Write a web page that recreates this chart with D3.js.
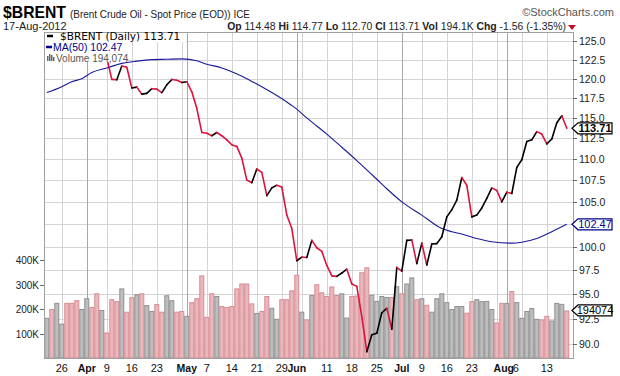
<!DOCTYPE html>
<html>
<head>
<meta charset="utf-8">
<script src="https://cdn.jsdelivr.net/npm/d3@7"></script>
<style>
  body { margin: 0; background: #fff; }
  svg { display: block; font-family: "Liberation Sans", Arial, sans-serif; }
</style>
</head>
<body>
<div id="chart"></div>
<script>
// trading days shown (ICE Brent, daily)
const dates = [
  "2012-03-21","2012-03-22","2012-03-23",
  "2012-03-26","2012-03-27","2012-03-28","2012-03-29","2012-03-30",
  "2012-04-02","2012-04-03","2012-04-04","2012-04-05",
  "2012-04-09","2012-04-10","2012-04-11","2012-04-12","2012-04-13",
  "2012-04-16","2012-04-17","2012-04-18","2012-04-19","2012-04-20",
  "2012-04-23","2012-04-24","2012-04-25","2012-04-26","2012-04-27",
  "2012-04-30","2012-05-01","2012-05-02","2012-05-03","2012-05-04",
  "2012-05-07","2012-05-08","2012-05-09","2012-05-10","2012-05-11",
  "2012-05-14","2012-05-15","2012-05-16","2012-05-17","2012-05-18",
  "2012-05-21","2012-05-22","2012-05-23","2012-05-24","2012-05-25",
  "2012-05-29","2012-05-30","2012-05-31","2012-06-01",
  "2012-06-04","2012-06-05","2012-06-06","2012-06-07","2012-06-08",
  "2012-06-11","2012-06-12","2012-06-13","2012-06-14","2012-06-15",
  "2012-06-18","2012-06-19","2012-06-20","2012-06-21","2012-06-22",
  "2012-06-25","2012-06-26","2012-06-27","2012-06-28","2012-06-29",
  "2012-07-02","2012-07-03","2012-07-05","2012-07-06",
  "2012-07-09","2012-07-10","2012-07-11","2012-07-12","2012-07-13",
  "2012-07-16","2012-07-17","2012-07-18","2012-07-19","2012-07-20",
  "2012-07-23","2012-07-24","2012-07-25","2012-07-26","2012-07-27",
  "2012-07-30","2012-07-31","2012-08-01","2012-08-02","2012-08-03",
  "2012-08-06","2012-08-07","2012-08-08","2012-08-09","2012-08-10",
  "2012-08-13","2012-08-14","2012-08-15","2012-08-16","2012-08-17"
];

const priorClose = 123.6;
const closes = [
  124.2, 123.1, 125.1,
  125.7, 125.6, 124.2, 122.5, 122.9,
  125.4, 124.6, 122.3, 123.4,
  122.7, 119.9, 119.85, 121.65, 121.5,
  118.8, 118.9, 118.0, 118.1, 118.7,
  118.65, 118.2, 119.2, 119.9, 119.8,
  119.5, 119.6, 118.3, 116.2, 113.2,
  113.1, 112.8, 113.2, 112.8, 112.3,
  111.7, 111.5, 110.1, 107.5, 107.2,
  108.8, 108.4, 105.7, 106.6, 106.9,
  106.7, 103.5, 102.0, 98.5,
  98.9, 98.85, 100.7, 99.9, 99.5,
  98.0, 96.9, 96.85, 97.2, 97.6,
  96.05, 95.8, 92.7, 89.25, 90.9,
  91.05, 93.1, 93.55, 91.45, 97.8,
  97.4, 100.7, 100.75, 98.2,
  100.4, 98.05, 100.3, 100.35, 101.1,
  103.3, 104.1, 105.2, 107.8, 106.9,
  103.3, 103.5, 104.3, 105.4, 106.6,
  106.3, 105.0, 106.1, 105.95, 109.0,
  109.9, 112.1, 112.3, 113.3, 113.0,
  111.8, 112.4, 114.4, 115.27, 113.71
];

// volume in thousands
const volumes = [
  164, 200, 225,
  140, 225, 225, 236, 200,
  244, 208, 264, 196,
  104, 240, 232, 284, 189,
  248, 260, 264, 216, 192,
  220, 189, 256, 236, 189,
  192, 172, 228, 244, 337,
  168, 264, 253, 212, 208,
  212, 284, 304, 304, 223,
  184, 192, 253, 205, 160,
  240, 240, 276, 340,
  189, 157, 257, 301, 268,
  253, 292, 257, 264, 165,
  253, 255, 350, 370, 258,
  233, 253, 249, 249, 293,
  264, 304, 329, 240,
  244, 217, 189, 244, 264,
  228, 200, 212, 212, 185,
  232, 240, 232, 233, 200,
  145, 225, 225, 273, 228,
  164, 192, 204, 160, 157,
  172, 153, 225, 221, 194.074
];

// 50-day moving average, read at these days
const maDates = [
  "2012-03-21","2012-03-26","2012-03-28","2012-03-30","2012-04-03","2012-04-09",
  "2012-04-12","2012-04-17","2012-04-20","2012-04-25","2012-04-30","2012-05-03",
  "2012-05-07","2012-05-10","2012-05-14","2012-05-17","2012-05-21","2012-05-24",
  "2012-05-30","2012-06-01","2012-06-05","2012-06-07","2012-06-11","2012-06-14",
  "2012-06-19","2012-06-21","2012-06-25","2012-06-27","2012-07-02","2012-07-09",
  "2012-07-13","2012-07-17","2012-07-19","2012-07-24","2012-07-27","2012-08-02",
  "2012-08-06","2012-08-09","2012-08-14","2012-08-17"
];
const maValues = [
  118.2, 118.96, 119.6, 120.0, 120.8, 121.4,
  122.0, 122.3, 122.5, 122.55, 122.6, 122.35,
  121.9, 121.4, 120.9, 120.0, 119.3, 118.2,
  117.0, 116.1, 115.0, 114.0, 113.0, 111.4,
  109.8, 108.7, 107.6, 106.5, 105.0, 103.5,
  102.0, 101.65, 101.4, 100.9, 100.55, 100.4,
  100.5, 100.9, 101.65, 102.47
];

const priceTicks = [90, 92.5, 95, 97.5, 100, 102.5, 105, 107.5, 110, 112.5, 115, 117.5, 120, 122.5, 125];
const volumeTicks = [100, 200, 300, 400];

const gridDates = [
  "2012-03-26","2012-04-09","2012-04-16","2012-04-23","2012-04-30","2012-05-07",
  "2012-05-14","2012-05-21","2012-05-29","2012-06-04","2012-06-11","2012-06-18",
  "2012-06-25","2012-07-09","2012-07-16","2012-07-23","2012-07-30","2012-08-06","2012-08-13"
];
const monthDates = ["2012-04-02","2012-05-01","2012-06-01","2012-07-02","2012-08-01"];
const tickDates = [
  "2012-03-26","2012-04-02","2012-04-09","2012-04-16","2012-04-23","2012-05-01",
  "2012-05-07","2012-05-14","2012-05-21","2012-05-29","2012-06-01","2012-06-11",
  "2012-06-18","2012-06-25","2012-07-02","2012-07-09","2012-07-16","2012-07-23",
  "2012-08-01","2012-08-06","2012-08-13"
];
const tickLabels = ["26","Apr","9","16","23","May","7","14","21","29","Jun","11","18","25","Jul","9","16","23","Aug","6","13"];

const width = 620, height = 376;
const pL = 44, pR = 573, pT = 32, pB = 358;

const svg = d3.select('#chart').append('svg').attr('width', width).attr('height', height);

const x = d3.scaleBand().domain(dates).range([pL + 0.3, pL + 0.3 + 5 * dates.length]).padding(0);
const cx = (d) => x(d) + x.bandwidth() / 2;
const y = d3.scaleLog().domain([90, 125]).range([344, 41]);
const yVol = d3.scaleLinear().domain([0, 400]).range([pB, 260]);

const lastClose = closes[closes.length - 1];
const lastMa = maValues[maValues.length - 1];
const lastVol = volumes[volumes.length - 1];

svg.append('defs').append('clipPath').attr('id', 'plot')
  .append('rect').attr('x', pL).attr('y', pT).attr('width', pR - pL).attr('height', pB - pT);

//grid
const grid = svg.append('g');
grid.selectAll('.hg').data(priceTicks).enter().append('line')
  .attr('x1', pL).attr('x2', pR)
  .attr('y1', (d) => Math.round(y(d)) + 0.5).attr('y2', (d) => Math.round(y(d)) + 0.5)
  .attr('stroke', '#d4d4d4');
grid.selectAll('.vg').data(gridDates).enter().append('line')
  .attr('x1', (d) => Math.round(cx(d)) + 0.5).attr('x2', (d) => Math.round(cx(d)) + 0.5)
  .attr('y1', pT).attr('y2', pB)
  .attr('stroke', '#d4d4d4');
grid.selectAll('.mg').data(monthDates).enter().append('line')
  .attr('x1', (d) => Math.round(cx(d)) + 0.5).attr('x2', (d) => Math.round(cx(d)) + 0.5)
  .attr('y1', pT).attr('y2', pB)
  .attr('stroke', '#a8a8a8');

// up / down vs previous close
const up = closes.map((c, i) => c >= (i === 0 ? priorClose : closes[i - 1]));

//volume bars
svg.append('g').attr('clip-path', 'url(#plot)')
  .selectAll('rect').data(dates).enter().append('rect')
  .attr('x', (d) => x(d) + 0.5)
  .attr('width', x.bandwidth() - 1)
  .attr('y', (d, i) => yVol(volumes[i]) + 0.5)
  .attr('height', (d, i) => pB - yVol(volumes[i]) - 0.5)
  .attr('fill', (d, i) => (up[i] ? '#bebebe' : '#e9b8bd'))
  .attr('stroke', (d, i) => (up[i] ? '#8f8f8f' : '#d98a93'))
  .attr('stroke-width', 1);

//moving average
const maLine = d3.line().x((d) => cx(d[0])).y((d) => y(d[1])).curve(d3.curveMonotoneX);
svg.append('path')
  .attr('clip-path', 'url(#plot)')
  .datum(maDates.map((d, i) => [d, maValues[i]]))
  .attr('d', maLine)
  .attr('fill', 'none')
  .attr('stroke', '#1a1a9c')
  .attr('stroke-width', 1.1);

//price segments
const segs = closes.slice(1).map((c, i) => ({ a: i, b: i + 1, up: c >= closes[i] }));
svg.append('g').attr('clip-path', 'url(#plot)')
  .selectAll('line').data(segs).enter().append('line')
  .attr('x1', (d) => cx(dates[d.a])).attr('y1', (d) => y(closes[d.a]))
  .attr('x2', (d) => cx(dates[d.b])).attr('y2', (d) => y(closes[d.b]))
  .attr('stroke', (d) => (d.up ? '#000' : '#dc143c'))
  .attr('stroke-width', 1.6)
  .attr('stroke-linecap', 'round');

//frame
svg.append('rect').attr('x', pL + 0.5).attr('y', pT + 0.5)
  .attr('width', pR - pL).attr('height', pB - pT)
  .attr('fill', 'none').attr('stroke', '#a0a0a0');

//right price axis (labels under a value tag are covered, as on the original)
const tagYs = [y(lastClose), y(lastMa), yVol(lastVol)];
const shownTicks = priceTicks.filter((t) => tagYs.every((ty) => Math.abs(y(t) - ty) > 5));
const ra = svg.append('g');
ra.selectAll('line').data(priceTicks).enter().append('line')
  .attr('x1', pR).attr('x2', pR + 4)
  .attr('y1', (d) => Math.round(y(d)) + 0.5).attr('y2', (d) => Math.round(y(d)) + 0.5)
  .attr('stroke', '#666');
ra.selectAll('text').data(shownTicks).enter().append('text')
  .attr('x', pR + 6).attr('y', (d) => y(d) + 4)
  .attr('font-size', '10.5px').attr('fill', '#222')
  .text((d) => d3.format('.1f')(d));

//left volume axis
const la = svg.append('g');
la.selectAll('line').data(volumeTicks).enter().append('line')
  .attr('x1', pL - 4).attr('x2', pL)
  .attr('y1', (d) => Math.round(yVol(d)) + 0.5).attr('y2', (d) => Math.round(yVol(d)) + 0.5)
  .attr('stroke', '#666');
la.selectAll('text').data(volumeTicks).enter().append('text')
  .attr('x', pL - 5).attr('y', (d) => yVol(d) + 4)
  .attr('text-anchor', 'end').attr('font-size', '10px').attr('fill', '#222')
  .text((d) => d + 'K');

//bottom date labels
svg.append('g').selectAll('text').data(tickDates).enter().append('text')
  .attr('x', (d, i) => cx(d) + (tickLabels[i] === 'Aug' ? -3 : d === '2012-08-06' ? -6 : 0))
  .attr('y', 372)
  .attr('text-anchor', 'middle')
  .attr('font-size', (d) => (monthDates.includes(d) ? '10.5px' : '11px'))
  .attr('font-weight', (d) => (monthDates.includes(d) ? 'bold' : 'normal'))
  .attr('fill', '#111')
  .text((d, i) => tickLabels[i]);

//legend
const lg = svg.append('g');
lg.append('rect').attr('x', pL + 1).attr('y', pT + 1).attr('width', 141).attr('height', 9).attr('fill', '#fff');
lg.append('rect').attr('x', pL + 1).attr('y', pT + 10).attr('width', 82).attr('height', 20).attr('fill', '#fff');
lg.append('line').attr('x1', 47).attr('x2', 53).attr('y1', 36).attr('y2', 36).attr('stroke', '#000').attr('stroke-width', 2.5);
lg.append('text').attr('x', 60).attr('y', 39.5).attr('font-family', '"DejaVu Sans", Verdana, sans-serif')
  .attr('font-size', '10.5px').attr('fill', '#000').text('$BRENT (Daily) ' + lastClose.toFixed(2));
lg.append('line').attr('x1', 46).attr('x2', 52).attr('y1', 47).attr('y2', 47).attr('stroke', '#00008b').attr('stroke-width', 2.5);
lg.append('text').attr('x', 53).attr('y', 51).attr('font-size', '10.5px').attr('fill', '#00008b')
  .text('MA(50) ' + lastMa.toFixed(2));
const icon = lg.append('g').attr('fill', '#666');
[5, 7, 6, 4].forEach((h, i) => icon.append('rect').attr('x', 47 + i * 2).attr('y', 61 - h).attr('width', 1.5).attr('height', h));
lg.append('text').attr('x', 56).attr('y', 61.5).attr('font-size', '10px').attr('fill', '#555')
  .text('Volume ' + d3.format(',')(Math.round(lastVol * 1000)));

//right side value tags
function tag(yPos, label, color, bold) {
  const g = svg.append('g');
  g.append('path')
    .attr('d', `M${pR - 1},${yPos} L${pR + 5},${yPos - 5.5} L${pR + 39},${yPos - 5.5} L${pR + 39},${yPos + 5.5} L${pR + 5},${yPos + 5.5} Z`)
    .attr('fill', '#fff').attr('stroke', color).attr('stroke-width', 1.2);
  g.append('text').attr('x', pR + 22).attr('y', yPos + 4)
    .attr('text-anchor', 'middle').attr('font-size', '11px')
    .attr('font-weight', bold ? 'bold' : 'normal').attr('fill', color).text(label);
}
tag(y(lastClose), lastClose.toFixed(2), '#000', true);
tag(y(lastMa), lastMa.toFixed(2), '#00008b', false);
tag(yVol(lastVol), String(Math.round(lastVol * 1000)), '#000', false);

//header
svg.append('text').attr('x', 3).attr('y', 18).attr('font-size', '17px').attr('font-weight', 'bold')
  .attr('textLength', 63).attr('lengthAdjust', 'spacingAndGlyphs').text('$BRENT');
svg.append('text').attr('x', 70).attr('y', 18).attr('font-size', '11px').attr('fill', '#222')
  .attr('textLength', 180).attr('lengthAdjust', 'spacingAndGlyphs')
  .text('(Brent Crude Oil - Spot Price (EOD)) ICE');
svg.append('text').attr('x', 614).attr('y', 16).attr('text-anchor', 'end').attr('font-size', '11px').attr('fill', '#555')
  .text('\u00a9StockCharts.com');
svg.append('text').attr('x', 3).attr('y', 30).attr('font-size', '11px').attr('fill', '#222').text('17-Aug-2012');

const quote = [['Op', '114.48'], ['Hi', '114.77'], ['Lo', '112.70'], ['Cl', '113.71'], ['Vol', '194.1K'], ['Chg', '-1.56 (-1.35%)']];
const qt = svg.append('text').attr('x', 566).attr('y', 30).attr('text-anchor', 'end').attr('font-size', '10.4px').attr('fill', '#222');
quote.forEach((q, i) => {
  qt.append('tspan').attr('font-weight', 'bold').text((i ? ' ' : '') + q[0] + ' ');
  qt.append('tspan').text(q[1]);
});
svg.append('path').attr('d', 'M568,25 L576,25 L572,30 Z').attr('fill', '#c8102e');
</script>
</body>
</html>
